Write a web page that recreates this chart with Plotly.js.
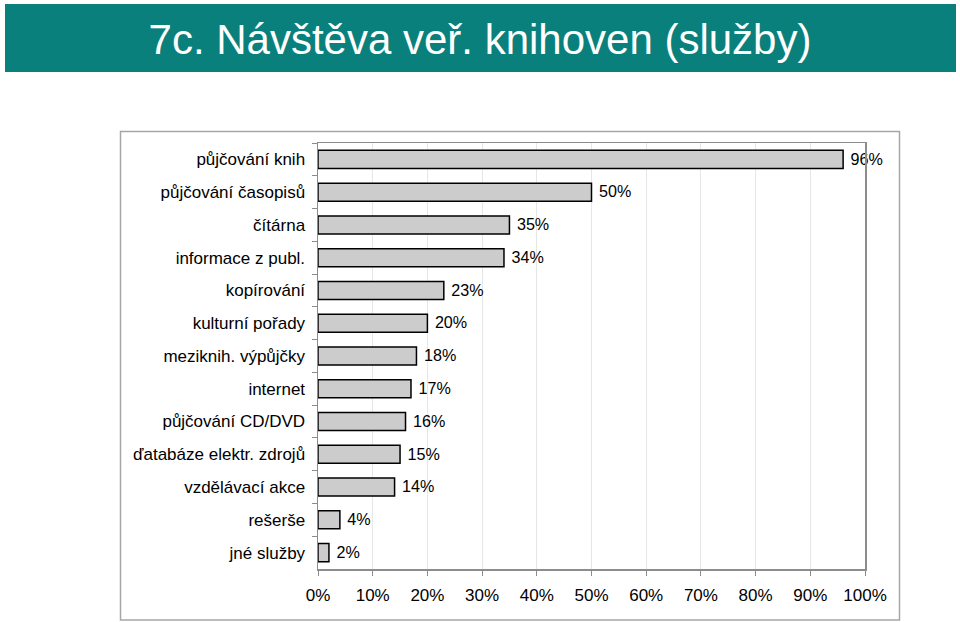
<!DOCTYPE html>
<html>
<head>
<meta charset="utf-8">
<script src="https://cdn.plot.ly/plotly-3.0.1.min.js"></script>
<style>html,body{margin:0;padding:0;background:#fff;}#chart{width:960px;height:622px;}</style>
</head>
<body>
<div id="chart"></div>
<script>
const categories = ["půjčování knih","půjčování časopisů","čítárna","informace z publ.","kopírování","kulturní pořady","meziknih. výpůjčky","internet","půjčování CD/DVD","ďatabáze elektr. zdrojů","vzdělávací akce","rešerše","jné služby"];
const values = [96,50,35,34,23,20,18,17,16,15,14,4,2];
const xTickVals = [0,10,20,30,40,50,60,70,80,90,100];
const xTickText = xTickVals.map(v => v + "%");
const chartTitle = "7c. Návštěva veř. knihoven (služby)";

const L = 318, R = 865, T = 143, B = 569, W = 960, H = 622;
const px = x => (x - L) / (R - L);
const py = y => (B - y) / (B - T);
const FONT = "Liberation Sans, Arial, sans-serif";

const trace = {
  type: "bar",
  orientation: "h",
  y: categories,
  x: values,
  marker: {color: "#cccccc", line: {color: "#000000", width: 1.5}},
  text: values.map(v => " " + v + "%"),
  textposition: "outside",
  textfont: {family: FONT, size: 17, color: "#000"},
  cliponaxis: false,
  hoverinfo: "skip"
};

const layout = {
  width: W, height: H,
  margin: {l: L, r: W - R, t: T, b: H - B, pad: 0},
  paper_bgcolor: "#ffffff",
  plot_bgcolor: "#ffffff",
  showlegend: false,
  bargap: 0.45,
  font: {family: FONT, size: 17, color: "#000"},
  title: {
    text: chartTitle,
    font: {family: FONT, size: 42, color: "#ffffff"},
    x: 0.5, xref: "container", xanchor: "center",
    y: 1 - 39/622, yref: "container", yanchor: "middle"
  },
  xaxis: {
    range: [0, 100],
    tickvals: xTickVals,
    ticktext: xTickText,
    showgrid: true, gridcolor: "#e6e6e6", gridwidth: 1,
    zeroline: false,
    showline: true, linecolor: "#8c8c8c", linewidth: 1.5, mirror: true,
    ticks: "outside", ticklen: 5, tickcolor: "#8c8c8c",
    ticklabelstandoff: 5,
    tickfont: {family: FONT, size: 17, color: "#000"},
    fixedrange: true
  },
  yaxis: {
    type: "category",
    autorange: "reversed",
    showgrid: false,
    showline: true, linecolor: "#8c8c8c", linewidth: 1.5, mirror: true,
    ticks: "outside", ticklen: 5, tickcolor: "#8c8c8c",
    tickson: "boundaries",
    ticklabelstandoff: 8,
    tickfont: {family: FONT, size: 17, color: "#000"},
    fixedrange: true
  },
  shapes: [
    {type: "rect", xref: "paper", yref: "paper", layer: "below",
     x0: px(5), x1: px(956), y0: py(72), y1: py(4),
     fillcolor: "#0a807d", line: {width: 0}},
    {type: "rect", xref: "paper", yref: "paper", layer: "below",
     x0: px(120.5), x1: px(899.5), y0: py(620), y1: py(131.5),
     fillcolor: "rgba(0,0,0,0)", line: {color: "#a6a6a6", width: 1.5}}
  ]
};

Plotly.newPlot("chart", [trace], layout, {displayModeBar: false, staticPlot: true});
</script>
</body>
</html>
